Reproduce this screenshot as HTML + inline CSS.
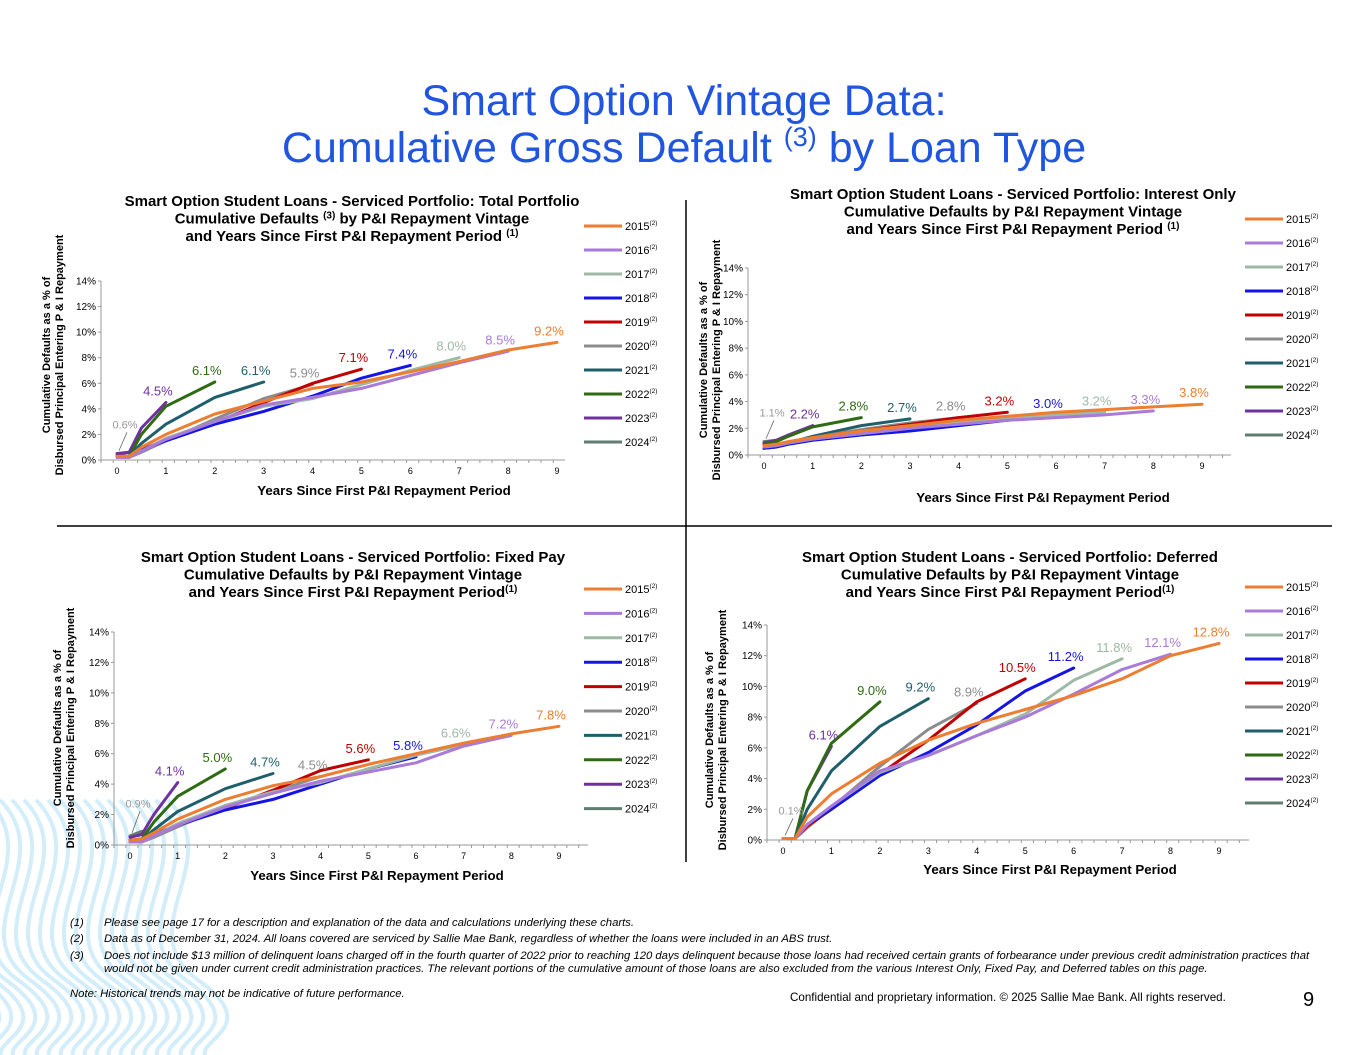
<!DOCTYPE html>
<html><head><meta charset="utf-8">
<style>
body{margin:0;background:#fff;}
#wrap{position:relative;width:1365px;height:1055px;overflow:hidden;font-family:"Liberation Sans",Arial,sans-serif;}
svg text{font-family:"Liberation Sans",Arial,sans-serif;}
</style></head>
<body>
<div id="wrap">
<svg id="svg" width="1365" height="1055" viewBox="0 0 1365 1055" xmlns="http://www.w3.org/2000/svg">
  <g id="waves"></g>
  <g>
    <text x="684" y="115" text-anchor="middle" font-size="43" fill="#1f55e0">Smart Option Vintage Data:</text>
    <text x="684" y="162" text-anchor="middle" font-size="43" fill="#1f55e0">Cumulative Gross Default <tspan font-size="27" dy="-16">(3)</tspan><tspan dy="16"> by Loan Type</tspan></text>
  </g>
  <line x1="686" y1="200" x2="686" y2="862" stroke="#000" stroke-width="1.5"/>
  <line x1="57" y1="526" x2="1332" y2="526" stroke="#000" stroke-width="1.5"/>
  <g id="charts"></g>
  <g font-size="11.3" font-style="italic" fill="#000">
    <text x="70" y="926">(1)</text><text x="104" y="926">Please see page 17 for a description and explanation of the data and calculations underlying these charts.</text>
    <text x="70" y="942">(2)</text><text x="104" y="942">Data as of  December 31, 2024. All loans covered are serviced by Sallie Mae Bank, regardless of whether the loans were included in an ABS trust.</text>
    <text x="70" y="959">(3)</text><text x="104" y="959">Does not include $13 million of delinquent loans charged off in the fourth quarter of 2022 prior to reaching 120 days delinquent because those loans had received certain grants of forbearance under previous credit administration practices that</text>
    <text x="104" y="972">would not be given under current credit administration practices. The relevant portions of the cumulative amount of those loans are also excluded from the various Interest Only, Fixed Pay, and Deferred tables on this page.</text>
    <text x="70" y="997">Note: Historical trends may not be indicative of future performance.</text>
  </g>
  <text x="790" y="1001" font-size="11.6" fill="#000">Confidential and proprietary information. © 2025 Sallie Mae Bank. All rights reserved.</text>
  <text x="1303" y="1006" font-size="20" fill="#000">9</text>
</svg>
</div>
<script>
const NS = "http://www.w3.org/2000/svg";
const vintages = ["2015","2016","2017","2018","2019","2020","2021","2022","2023","2024"];
const xYears = [0,0.25,0.5,1,2,3,4,5,6,7,8,9];
const yTicks = [0,2,4,6,8,10,12,14];
const xTicks = [0,1,2,3,4,5,6,7,8,9];
const colors = ["#ed7d31","#a97ad8","#9fb8a6","#1414e6","#c00000","#8c8c8c","#1f5f6b","#2e6b12","#7030a0","#5f7e70"];

const totalValues = [
 [0.3,0.3,1.0,2.0,3.6,4.6,5.6,6.1,6.9,7.7,8.6,9.2],
 [0.2,0.2,0.7,1.6,3.0,4.3,4.9,5.6,6.6,7.6,8.5],
 [0.2,0.2,0.7,1.7,3.0,4.2,4.8,5.9,7.0,8.0],
 [0.3,0.3,0.8,1.5,2.8,3.8,5.0,6.4,7.4],
 [0.3,0.3,0.8,1.6,2.9,4.5,6.0,7.1],
 [0.2,0.2,0.6,1.5,3.2,4.8,5.9],
 [0.3,0.3,1.3,2.8,4.9,6.1],
 [0.3,0.3,2.0,4.2,6.1],
 [0.5,0.6,2.5,4.5],
 [0.5,0.6]
];
const totalLabels = ["9.2%","8.5%","8.0%","7.4%","7.1%","5.9%","6.1%","6.1%","4.5%","0.6%"];
const ioValues = [
 [0.7,0.8,1.0,1.3,1.8,2.2,2.6,2.9,3.2,3.4,3.6,3.8],
 [0.6,0.7,0.9,1.2,1.6,2.0,2.3,2.6,2.8,3.0,3.3],
 [0.6,0.7,0.9,1.2,1.6,2.0,2.4,2.7,3.0,3.2],
 [0.5,0.6,0.8,1.1,1.5,1.8,2.2,2.6,3.0],
 [0.6,0.7,0.9,1.3,1.8,2.3,2.8,3.2],
 [0.6,0.7,0.9,1.3,1.9,2.4,2.8],
 [0.5,0.6,0.9,1.4,2.2,2.7],
 [0.8,1.0,1.4,2.1,2.8],
 [0.9,1.1,1.5,2.2],
 [1.0,1.1]
];
const ioLabels = ["3.8%","3.3%","3.2%","3.0%","3.2%","2.8%","2.7%","2.8%","2.2%","1.1%"];
const fpValues = [
 [0.3,0.4,0.8,1.7,3.0,3.9,4.5,5.3,6.0,6.7,7.3,7.8],
 [0.2,0.2,0.6,1.3,2.5,3.4,4.2,4.8,5.4,6.5,7.2],
 [0.2,0.2,0.6,1.4,2.6,3.5,4.1,5.0,5.9,6.6],
 [0.3,0.3,0.7,1.3,2.3,3.0,4.0,5.0,5.8],
 [0.3,0.3,0.7,1.3,2.4,3.6,4.9,5.6],
 [0.2,0.2,0.5,1.2,2.5,3.5,4.5],
 [0.3,0.3,1.0,2.2,3.7,4.7],
 [0.3,0.4,1.5,3.2,5.0],
 [0.5,0.7,2.0,4.1],
 [0.6,0.9]
];
const fpLabels = ["7.8%","7.2%","6.6%","5.8%","5.6%","4.5%","4.7%","5.0%","4.1%","0.9%"];
const dfValues = [
 [0.1,0.1,1.5,3.0,5.0,6.5,7.6,8.5,9.4,10.5,12.0,12.8],
 [0.1,0.1,1.0,2.2,4.5,5.5,6.8,8.0,9.5,11.1,12.1],
 [0.1,0.1,1.0,2.2,4.4,5.5,6.8,8.2,10.4,11.8],
 [0.1,0.1,1.0,2.0,4.2,5.7,7.5,9.7,11.2],
 [0.1,0.1,0.9,2.0,4.3,6.5,9.0,10.5],
 [0.1,0.1,0.8,2.1,4.8,7.2,8.9],
 [0.1,0.1,2.0,4.5,7.4,9.2],
 [0.1,0.1,3.2,6.3,9.0],
 [0.1,0.1,3.2,6.1],
 [0.1,0.1]
];
const dfLabels = ["12.8%","12.1%","11.8%","11.2%","10.5%","8.9%","9.2%","9.0%","6.1%","0.1%"];

const panels = [
 {name:"total-portfolio", values:totalValues, labels:totalLabels, x0:117,x9:557,y0:460,y14:281,axL:101,axR:565,
  title:["Smart Option Student Loans - Serviced Portfolio: Total Portfolio","Cumulative Defaults |(3)| by P&I Repayment Vintage","and Years Since First P&I Repayment Period |(1)|"], tx:352, ty:206,
  legX:584, legY:226, legStep:24, yt:[50,63], ytCy:355, xtitleY:495, xtitleX:384},
 {name:"interest-only", values:ioValues, labels:ioLabels, x0:764,x9:1202,y0:455,y14:268,axL:748,axR:1231,
  title:["Smart Option Student Loans - Serviced Portfolio: Interest Only","Cumulative Defaults by P&I Repayment Vintage","and Years Since First P&I Repayment Period |(1)|"], tx:1013, ty:199,
  legX:1245, legY:219, legStep:24, yt:[707,719], ytCy:360, xtitleY:502, xtitleX:1043},
 {name:"fixed-pay", values:fpValues, labels:fpLabels, x0:130,x9:559,y0:845,y14:632,axL:114,axR:588,
  title:["Smart Option Student Loans - Serviced Portfolio: Fixed Pay","Cumulative Defaults by P&I Repayment Vintage","and Years Since First P&I Repayment Period|(1)|"], tx:353, ty:562,
  legX:584, legY:589, legStep:24.4, yt:[61,74], ytCy:728, xtitleY:880, xtitleX:377},
 {name:"deferred", values:dfValues, labels:dfLabels, x0:783,x9:1219,y0:840,y14:625,axL:767,axR:1249,
  title:["Smart Option Student Loans - Serviced Portfolio: Deferred","Cumulative Defaults by P&I Repayment Vintage","and Years Since First P&I Repayment Period|(1)|"], tx:1010, ty:562,
  legX:1245, legY:587, legStep:24, yt:[713,726], ytCy:730, xtitleY:874, xtitleX:1050}
];

function mk(tag, attrs, parent){ const e=document.createElementNS(NS,tag); for(const k in attrs) e.setAttribute(k,attrs[k]); if(parent) parent.appendChild(e); return e; }

const charts = document.getElementById("charts");
panels.forEach(p=>{
  const g = mk("g",{},charts);
  
  
  const sx = v => p.x0 + (p.x9-p.x0)*v/9;
  const sy = v => p.y0 - (p.y0-p.y14)*v/14;
  const tt = mk("text",{x:p.tx,y:p.ty,"text-anchor":"middle","font-size":"15","font-weight":"bold",fill:"#000"},g);
  
  
  p.title.forEach((line,i)=>{
    const parts=line.split("|");
    parts.forEach((s,j)=>{
      const ts=mk("tspan",{},tt);
      if(j===0){ts.setAttribute("x",p.tx); ts.setAttribute("dy", i===0?"0":"17.5");}
      if(j%2===1){ts.setAttribute("font-size","10"); ts.setAttribute("dy","-5");}
      else if(j>0){ts.setAttribute("dy","5");}
      ts.textContent=s;
    });
  });
  const yt = mk("text",{transform:`translate(${p.yt[0]},${p.ytCy}) rotate(-90)`,"text-anchor":"middle","font-size":"11","font-weight":"bold",fill:"#000"},g);
  
  
  const t1=mk("tspan",{x:0,y:0},yt); t1.textContent="Cumulative Defaults as a % of";
  const t2=mk("tspan",{x:0,y:13},yt); t2.textContent="Disbursed Principal  Entering P & I Repayment";
  const ax = mk("g",{stroke:"#999","stroke-width":"1"},g);
  
  
  mk("line",{x1:p.axL,y1:sy(14),x2:p.axL,y2:p.y0},ax);
  mk("line",{x1:p.axL,y1:p.y0,x2:p.axR,y2:p.y0},ax);
  for(let q=p.axL; q<=p.axR; q+=(p.x9-p.x0)/36){ mk("line",{x1:q,y1:p.y0,x2:q,y2:p.y0+3},ax); }
  yTicks.forEach(v=>{
    mk("line",{x1:p.axL-3,y1:sy(v),x2:p.axL,y2:sy(v)},ax);
    const t=mk("text",{x:p.axL-5,y:sy(v)+3.5,"text-anchor":"end","font-size":"10",fill:"#000",stroke:"none"},g);
    
    
    t.textContent=v+"%";
  });
  xTicks.forEach(v=>{
    const t=mk("text",{x:sx(v),y:p.y0+14,"text-anchor":"middle","font-size":"9",fill:"#000"},g);
    
    
    t.textContent=v;
  });
  const xt=mk("text",{x:p.xtitleX,y:p.xtitleY,"text-anchor":"middle","font-size":"13.3","font-weight":"bold",fill:"#000"},g);
  
  
  xt.textContent="Years Since First P&I Repayment Period";
  for(let i=p.values.length-1;i>=0;i--){
    const vals=p.values[i];
    const pts=vals.map((v,k)=>sx(xYears[k]).toFixed(1)+","+sy(v).toFixed(1)).join(" ");
    const pl=mk("polyline",{points:pts,fill:"none",stroke:colors[i],"stroke-width":"3","stroke-linejoin":"round","stroke-linecap":"round"},g);
    
    
  }
  p.values.forEach((vals,i)=>{
    const k=vals.length-1;
    let lx=sx(xYears[k]), ly=sy(vals[k]);
    let x=lx-8, y=ly-7;
    if(i===9){
      x=sx(0)+8; y=sy(vals[k])-24;
      const ln=mk("line",{x1:sx(0)+2,y1:sy(vals[0])-3,x2:sx(0)+10,y2:y+4,stroke:"#666","stroke-width":"0.8"},g);
      
      
      const t=mk("text",{x:x,y:y,"text-anchor":"middle","font-size":"11","fill":"#999"},g);
      
      
      t.textContent=p.labels[i];
      return;
    }
    const t=mk("text",{x:x,y:y,"text-anchor":"middle","font-size":"13","fill":colors[i]},g);
    
    
    t.textContent=p.labels[i];
  });
  const lg=mk("g",{},g);
  
  
  vintages.forEach((vn,i)=>{
    const y=p.legY+i*p.legStep;
    const e=mk("g",{},lg);
    
    
    mk("line",{x1:p.legX,y1:y,x2:p.legX+38,y2:y,stroke:colors[i],"stroke-width":"3"},e);
    const t=mk("text",{x:p.legX+41,y:y+4,"font-size":"11","fill":"#000"},e);
    t.textContent=vn;
    const s=mk("tspan",{"font-size":"6.5",dy:"-5"},t); s.textContent="(2)";
  });
});

const wv=document.getElementById("waves");
for(let i=0;i<20;i++){
  const x=-60+i*12;
  const d=`M ${x} 800 C ${x+60} 860, ${x-40} 930, ${x+30} 980 S ${x+20} 1040, ${x+40} 1060`;
  const pth=mk("path",{d:d,fill:"none",stroke:"#d3eef9","stroke-width":"4"},wv);
  
  
}
</script>
</body></html>
